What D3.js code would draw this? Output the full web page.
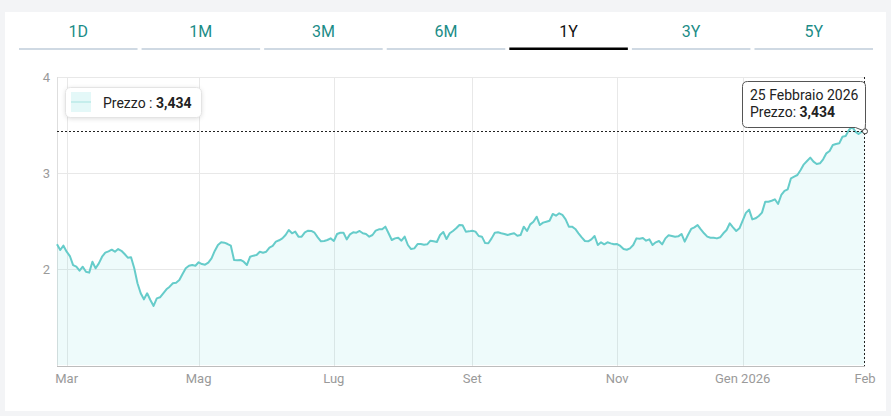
<!DOCTYPE html>
<html>
<head>
<meta charset="utf-8">
<script src="https://cdn.jsdelivr.net/npm/d3@7"></script>
<style>
  html, body { margin: 0; padding: 0; background: #f3f4f6; }
  svg { display: block; font-family: Roboto, "Noto Sans", sans-serif; }
</style>
</head>
<body>
<svg id="chart" width="891" height="416"></svg>
<script>
// tab del periodo
const tabLabels = ["1D", "1M", "3M", "6M", "1Y", "3Y", "5Y"]
const activeTab = "1Y"

// prezzi di chiusura giornalieri (26 feb 2025 - 25 feb 2026)
const prices = [
  2.257, 2.198, 2.243, 2.18, 2.135, 2.04, 2.024, 1.982, 2.024, 1.972,
  1.962, 2.076, 2.007, 2.059, 2.128, 2.17, 2.184, 2.201, 2.18, 2.208,
  2.19, 2.156, 2.118, 2.122, 2.007, 1.851, 1.747, 1.684, 1.747, 1.677,
  1.615, 1.694, 1.705, 1.747, 1.789, 1.816, 1.851, 1.857, 1.885, 1.948,
  2.007, 2.034, 2.042, 2.034,
  2.07, 2.052, 2.045, 2.066, 2.111, 2.188, 2.25, 2.278, 2.274, 2.26,
  2.243, 2.094, 2.09, 2.094, 2.076, 2.042, 2.128, 2.139, 2.146, 2.18,
  2.17, 2.18, 2.222, 2.24, 2.285, 2.299, 2.319, 2.354, 2.406, 2.372,
  2.389, 2.337, 2.337, 2.382, 2.399, 2.396, 2.378, 2.33, 2.288, 2.292,
  2.302, 2.319, 2.292, 2.365, 2.378,
  2.378, 2.309, 2.361, 2.382, 2.378, 2.396, 2.372, 2.365, 2.337, 2.354,
  2.399, 2.413, 2.413, 2.441, 2.372, 2.302, 2.319, 2.326, 2.295, 2.337,
  2.25, 2.208, 2.215, 2.26, 2.26, 2.253, 2.257, 2.295, 2.288, 2.281,
  2.354, 2.385, 2.312, 2.372, 2.396, 2.424, 2.458, 2.455, 2.389, 2.392,
  2.399, 2.389, 2.344, 2.337,
  2.27, 2.268, 2.319, 2.378, 2.382, 2.372, 2.365, 2.354, 2.365, 2.372,
  2.347, 2.354, 2.441, 2.396, 2.465, 2.493, 2.545, 2.458, 2.483, 2.493,
  2.503, 2.573, 2.555, 2.58, 2.563, 2.517, 2.441, 2.441, 2.417, 2.372,
  2.33, 2.292, 2.288, 2.309, 2.344, 2.25, 2.278, 2.257, 2.278, 2.267,
  2.257, 2.26, 2.24, 2.208, 2.201,
  2.215, 2.25, 2.319, 2.316, 2.323, 2.295, 2.309, 2.25, 2.278, 2.292,
  2.257, 2.319, 2.351, 2.344, 2.337, 2.34, 2.365, 2.285, 2.354, 2.417,
  2.434, 2.458, 2.413, 2.372, 2.337, 2.326, 2.326, 2.319, 2.33, 2.372,
  2.406, 2.476, 2.434, 2.396, 2.424,
  2.505, 2.585, 2.618, 2.517, 2.528, 2.552, 2.587, 2.701, 2.701, 2.711,
  2.726, 2.677, 2.771, 2.813, 2.83, 2.945, 2.962, 2.979, 3.031, 3.09,
  3.125, 3.16, 3.118, 3.094, 3.101, 3.143, 3.205, 3.229, 3.292, 3.302,
  3.309, 3.378, 3.385, 3.448, 3.483, 3.431, 3.406, 3.431, 3.434
]

// giorni di borsa chiusa
const holidays = ["2025-04-18", "2025-04-21", "2025-05-01", "2025-08-15",
  "2025-12-24", "2025-12-25", "2025-12-26", "2025-12-31", "2026-01-01"]

const yTicks = [2, 3, 4]
const monthTicks = ["2025-03", "2025-05", "2025-07", "2025-09", "2025-11", "2026-01"]
const monthLabels = ["Mar", "Mag", "Lug", "Set", "Nov", "Gen 2026"]
const lastLabel = "Feb"
const mesi = ["Gennaio", "Febbraio", "Marzo", "Aprile", "Maggio", "Giugno", "Luglio",
  "Agosto", "Settembre", "Ottobre", "Novembre", "Dicembre"]

// calendario dei giorni di borsa
const fmtDay = d3.utcFormat("%Y-%m-%d")
const dates = d3.utcDays(new Date(Date.UTC(2025, 1, 26)), new Date(Date.UTC(2026, 1, 26)))
  .filter(d => d.getUTCDay() % 6 !== 0 && !holidays.includes(fmtDay(d)))

const it = d3.formatLocale({ decimal: ",", thousands: ".", grouping: [3], currency: ["€", ""] })
const fmtPrice = it.format(".3f")

const svg = d3.select("#chart")

// card bianca
svg.append("rect")
    .attr("x", 5).attr("y", 12)
    .attr("width", 881).attr("height", 399)
    .attr("fill", "#ffffff")

// tab
const tabScale = d3.scaleBand()
    .domain(tabLabels)
    .range([19, 873])
    .paddingInner(0.033)

const tabs = svg.append("g").selectAll("g")
    .data(tabLabels)
    .join("g")

tabs.append("text")
    .attr("x", d => tabScale(d) + tabScale.bandwidth() / 2)
    .attr("y", 37)
    .attr("text-anchor", "middle")
    .attr("font-size", 16)
    .attr("fill", d => d === activeTab ? "#111111" : "#1b8c87")
    .text(d => d)

tabs.append("rect")
    .attr("x", d => tabScale(d))
    .attr("y", d => d === activeTab ? 47.5 : 48)
    .attr("width", tabScale.bandwidth())
    .attr("height", d => d === activeTab ? 2.5 : 2)
    .attr("fill", d => d === activeTab ? "#000000" : "#cfd9e3")

// scale
const x = d3.scaleLinear()
    .domain([0, prices.length - 1])
    .range([57, 865])

const y = d3.scaleLinear()
    .domain([1, 4])
    .range([365, 77])

const tickIdx = monthTicks.map(m => dates.findIndex(d => fmtDay(d).startsWith(m)))

// griglia
const grid = svg.append("g")
grid.selectAll("line.h")
    .data(yTicks)
    .join("line")
    .attr("class", "h")
    .attr("x1", 57).attr("x2", 865)
    .attr("y1", d => Math.round(y(d)) + 0.5).attr("y2", d => Math.round(y(d)) + 0.5)
    .attr("stroke", "#e8e8e8")

grid.selectAll("line.v")
    .data(tickIdx)
    .join("line")
    .attr("class", "v")
    .attr("x1", d => Math.round(x(d)) + 0.5).attr("x2", d => Math.round(x(d)) + 0.5)
    .attr("y1", 77).attr("y2", 366)
    .attr("stroke", "#e8e8e8")

grid.append("line")
    .attr("x1", 57.5).attr("x2", 57.5)
    .attr("y1", 77).attr("y2", 366)
    .attr("stroke", "#dedede")

// area e linea
const area = d3.area()
    .x((d, i) => x(i))
    .y0(y(1))
    .y1(d => y(d))

const line = d3.line()
    .x((d, i) => x(i))
    .y(d => y(d))

svg.append("path")
    .datum(prices)
    .attr("d", area)
    .attr("fill", "#5ad6d6")
    .attr("fill-opacity", 0.1)

svg.append("path")
    .datum(prices)
    .attr("d", line)
    .attr("fill", "none")
    .attr("stroke", "#66ccca")
    .attr("stroke-width", 2)
    .attr("stroke-linejoin", "round")

// asse x
svg.append("line")
    .attr("x1", 57).attr("x2", 865)
    .attr("y1", 366.5).attr("y2", 366.5)
    .attr("stroke", "#bdbdbd")

svg.append("g").selectAll("text")
    .data(tickIdx.concat([prices.length - 1]))
    .join("text")
    .attr("x", d => x(d))
    .attr("y", 383)
    .attr("text-anchor", "middle")
    .attr("font-size", 13)
    .attr("fill", "#9a9a9a")
    .text((d, i) => i < monthLabels.length ? monthLabels[i] : lastLabel)

// asse y
svg.append("g").selectAll("text")
    .data(yTicks)
    .join("text")
    .attr("x", 50)
    .attr("y", d => y(d) + 5)
    .attr("text-anchor", "end")
    .attr("font-size", 13)
    .attr("fill", "#9a9a9a")
    .text(d => d)

// mirino sull'ultimo punto
const last = prices[prices.length - 1]
const lx = x(prices.length - 1), ly = y(last)

svg.append("line")
    .attr("x1", 57).attr("x2", lx)
    .attr("y1", Math.round(ly) + 0.5).attr("y2", Math.round(ly) + 0.5)
    .attr("stroke", "#222")
    .attr("stroke-dasharray", "2,2")

svg.append("line")
    .attr("x1", lx - 0.5).attr("x2", lx - 0.5)
    .attr("y1", 77).attr("y2", 366)
    .attr("stroke", "#222")
    .attr("stroke-dasharray", "2,2")

// legenda
const legend = svg.append("g")
legend.append("rect")
    .attr("x", 65.5).attr("y", 87.5)
    .attr("width", 136).attr("height", 30)
    .attr("rx", 5)
    .attr("fill", "#ffffff")
    .attr("stroke", "#e4e4e4")
    .style("filter", "drop-shadow(0 1px 2px rgba(0,0,0,0.12))")
legend.append("rect")
    .attr("x", 71).attr("y", 92)
    .attr("width", 20).attr("height", 20)
    .attr("fill", "#e4f8f8")
legend.append("line")
    .attr("x1", 71).attr("x2", 91)
    .attr("y1", 102).attr("y2", 102)
    .attr("stroke", "#a6e3e0")
    .attr("stroke-width", 1)
const lt = legend.append("text")
    .attr("x", 103).attr("y", 107.5)
    .attr("font-size", 14)
    .attr("fill", "#222")
lt.append("tspan").text("Prezzo : ")
lt.append("tspan").attr("font-weight", "bold").text(fmtPrice(last))

// tooltip
const lastDate = dates[dates.length - 1]
const tx0 = 742.5, tx1 = 865.5, ty0 = 81.5, ty1 = 127.5, r = 5
const tipPath = `M${tx0 + r},${ty0} H${tx1 - r} Q${tx1},${ty0} ${tx1},${ty0 + r} V${ty1 - 4}
  L${lx},${ly} L${tx1 - 10},${ty1} H${tx0 + r} Q${tx0},${ty1} ${tx0},${ty1 - r}
  V${ty0 + r} Q${tx0},${ty0} ${tx0 + r},${ty0} Z`

svg.append("path")
    .attr("d", tipPath)
    .attr("fill", "#ffffff")
    .attr("stroke", "#555555")
    .attr("stroke-width", 1)

svg.append("circle")
    .attr("cx", lx).attr("cy", ly)
    .attr("r", 2.5)
    .attr("fill", "#ffffff")
    .attr("stroke", "#444")

svg.append("text")
    .attr("x", 750).attr("y", 100)
    .attr("font-size", 14)
    .attr("fill", "#222")
    .text(`${lastDate.getUTCDate()} ${mesi[lastDate.getUTCMonth()]} ${lastDate.getUTCFullYear()}`)

const tt = svg.append("text")
    .attr("x", 750).attr("y", 117)
    .attr("font-size", 14)
    .attr("fill", "#222")
tt.append("tspan").text("Prezzo: ")
tt.append("tspan").attr("font-weight", "bold").text(fmtPrice(last))
</script>
</body>
</html>
